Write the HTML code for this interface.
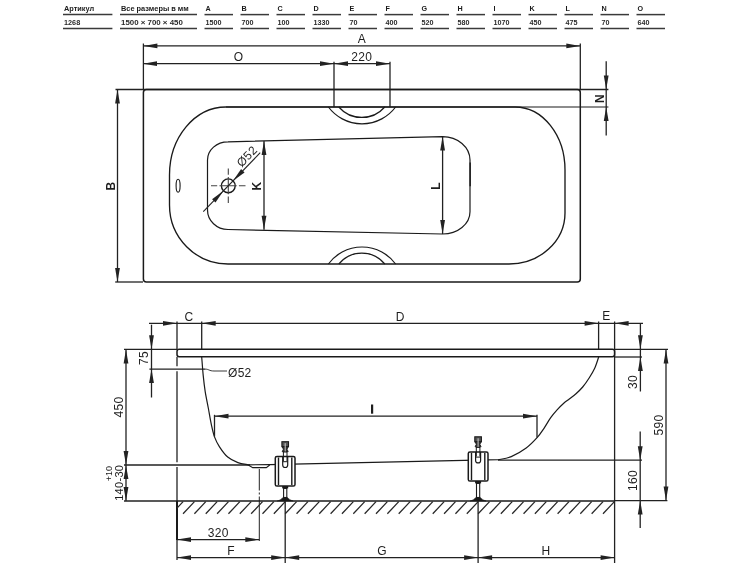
<!DOCTYPE html>
<html><head><meta charset="utf-8"><style>
html,body{margin:0;padding:0;background:#fff;width:750px;height:563px;overflow:hidden}
svg{display:block;will-change:transform}
text{font-family:"Liberation Sans",sans-serif}
</style></head><body>
<svg width="750" height="563" viewBox="0 0 750 563">
<rect width="750" height="563" fill="#fff"/>
<line x1="63.00" y1="14.60" x2="112.40" y2="14.60" stroke="#3a3a3a" stroke-width="1.5" />
<line x1="63.00" y1="28.50" x2="112.40" y2="28.50" stroke="#3a3a3a" stroke-width="1.5" />
<text x="64.00" y="10.90" font-size="7.2" text-anchor="start" font-weight="bold" fill="#1a1a1a" textLength="30.2" lengthAdjust="spacingAndGlyphs">Артикул</text>
<text x="64.00" y="25.00" font-size="7.2" text-anchor="start" font-weight="bold" fill="#2a2a2a" textLength="16.2" lengthAdjust="spacingAndGlyphs">1268</text>
<line x1="120.00" y1="14.60" x2="197.00" y2="14.60" stroke="#3a3a3a" stroke-width="1.5" />
<line x1="120.00" y1="28.50" x2="197.00" y2="28.50" stroke="#3a3a3a" stroke-width="1.5" />
<text x="121.00" y="10.90" font-size="7.2" text-anchor="start" font-weight="bold" fill="#1a1a1a" textLength="67.8" lengthAdjust="spacingAndGlyphs">Все размеры в мм</text>
<text x="121.00" y="25.00" font-size="7.2" text-anchor="start" font-weight="bold" fill="#2a2a2a" textLength="61.8" lengthAdjust="spacingAndGlyphs">1500 × 700 × 450</text>
<line x1="204.50" y1="14.60" x2="233.00" y2="14.60" stroke="#3a3a3a" stroke-width="1.5" />
<line x1="204.50" y1="28.50" x2="233.00" y2="28.50" stroke="#3a3a3a" stroke-width="1.5" />
<text x="205.50" y="10.90" font-size="7.2" text-anchor="start" font-weight="bold" fill="#1a1a1a" >A</text>
<text x="205.50" y="25.00" font-size="7.2" text-anchor="start" font-weight="bold" fill="#2a2a2a" >1500</text>
<line x1="240.50" y1="14.60" x2="269.00" y2="14.60" stroke="#3a3a3a" stroke-width="1.5" />
<line x1="240.50" y1="28.50" x2="269.00" y2="28.50" stroke="#3a3a3a" stroke-width="1.5" />
<text x="241.50" y="10.90" font-size="7.2" text-anchor="start" font-weight="bold" fill="#1a1a1a" >B</text>
<text x="241.50" y="25.00" font-size="7.2" text-anchor="start" font-weight="bold" fill="#2a2a2a" >700</text>
<line x1="276.50" y1="14.60" x2="305.00" y2="14.60" stroke="#3a3a3a" stroke-width="1.5" />
<line x1="276.50" y1="28.50" x2="305.00" y2="28.50" stroke="#3a3a3a" stroke-width="1.5" />
<text x="277.50" y="10.90" font-size="7.2" text-anchor="start" font-weight="bold" fill="#1a1a1a" >C</text>
<text x="277.50" y="25.00" font-size="7.2" text-anchor="start" font-weight="bold" fill="#2a2a2a" >100</text>
<line x1="312.50" y1="14.60" x2="341.00" y2="14.60" stroke="#3a3a3a" stroke-width="1.5" />
<line x1="312.50" y1="28.50" x2="341.00" y2="28.50" stroke="#3a3a3a" stroke-width="1.5" />
<text x="313.50" y="10.90" font-size="7.2" text-anchor="start" font-weight="bold" fill="#1a1a1a" >D</text>
<text x="313.50" y="25.00" font-size="7.2" text-anchor="start" font-weight="bold" fill="#2a2a2a" >1330</text>
<line x1="348.50" y1="14.60" x2="377.00" y2="14.60" stroke="#3a3a3a" stroke-width="1.5" />
<line x1="348.50" y1="28.50" x2="377.00" y2="28.50" stroke="#3a3a3a" stroke-width="1.5" />
<text x="349.50" y="10.90" font-size="7.2" text-anchor="start" font-weight="bold" fill="#1a1a1a" >E</text>
<text x="349.50" y="25.00" font-size="7.2" text-anchor="start" font-weight="bold" fill="#2a2a2a" >70</text>
<line x1="384.50" y1="14.60" x2="413.00" y2="14.60" stroke="#3a3a3a" stroke-width="1.5" />
<line x1="384.50" y1="28.50" x2="413.00" y2="28.50" stroke="#3a3a3a" stroke-width="1.5" />
<text x="385.50" y="10.90" font-size="7.2" text-anchor="start" font-weight="bold" fill="#1a1a1a" >F</text>
<text x="385.50" y="25.00" font-size="7.2" text-anchor="start" font-weight="bold" fill="#2a2a2a" >400</text>
<line x1="420.50" y1="14.60" x2="449.00" y2="14.60" stroke="#3a3a3a" stroke-width="1.5" />
<line x1="420.50" y1="28.50" x2="449.00" y2="28.50" stroke="#3a3a3a" stroke-width="1.5" />
<text x="421.50" y="10.90" font-size="7.2" text-anchor="start" font-weight="bold" fill="#1a1a1a" >G</text>
<text x="421.50" y="25.00" font-size="7.2" text-anchor="start" font-weight="bold" fill="#2a2a2a" >520</text>
<line x1="456.50" y1="14.60" x2="485.00" y2="14.60" stroke="#3a3a3a" stroke-width="1.5" />
<line x1="456.50" y1="28.50" x2="485.00" y2="28.50" stroke="#3a3a3a" stroke-width="1.5" />
<text x="457.50" y="10.90" font-size="7.2" text-anchor="start" font-weight="bold" fill="#1a1a1a" >H</text>
<text x="457.50" y="25.00" font-size="7.2" text-anchor="start" font-weight="bold" fill="#2a2a2a" >580</text>
<line x1="492.50" y1="14.60" x2="521.00" y2="14.60" stroke="#3a3a3a" stroke-width="1.5" />
<line x1="492.50" y1="28.50" x2="521.00" y2="28.50" stroke="#3a3a3a" stroke-width="1.5" />
<text x="493.50" y="10.90" font-size="7.2" text-anchor="start" font-weight="bold" fill="#1a1a1a" >I</text>
<text x="493.50" y="25.00" font-size="7.2" text-anchor="start" font-weight="bold" fill="#2a2a2a" >1070</text>
<line x1="528.50" y1="14.60" x2="557.00" y2="14.60" stroke="#3a3a3a" stroke-width="1.5" />
<line x1="528.50" y1="28.50" x2="557.00" y2="28.50" stroke="#3a3a3a" stroke-width="1.5" />
<text x="529.50" y="10.90" font-size="7.2" text-anchor="start" font-weight="bold" fill="#1a1a1a" >K</text>
<text x="529.50" y="25.00" font-size="7.2" text-anchor="start" font-weight="bold" fill="#2a2a2a" >450</text>
<line x1="564.50" y1="14.60" x2="593.00" y2="14.60" stroke="#3a3a3a" stroke-width="1.5" />
<line x1="564.50" y1="28.50" x2="593.00" y2="28.50" stroke="#3a3a3a" stroke-width="1.5" />
<text x="565.50" y="10.90" font-size="7.2" text-anchor="start" font-weight="bold" fill="#1a1a1a" >L</text>
<text x="565.50" y="25.00" font-size="7.2" text-anchor="start" font-weight="bold" fill="#2a2a2a" >475</text>
<line x1="600.50" y1="14.60" x2="629.00" y2="14.60" stroke="#3a3a3a" stroke-width="1.5" />
<line x1="600.50" y1="28.50" x2="629.00" y2="28.50" stroke="#3a3a3a" stroke-width="1.5" />
<text x="601.50" y="10.90" font-size="7.2" text-anchor="start" font-weight="bold" fill="#1a1a1a" >N</text>
<text x="601.50" y="25.00" font-size="7.2" text-anchor="start" font-weight="bold" fill="#2a2a2a" >70</text>
<line x1="636.50" y1="14.60" x2="665.00" y2="14.60" stroke="#3a3a3a" stroke-width="1.5" />
<line x1="636.50" y1="28.50" x2="665.00" y2="28.50" stroke="#3a3a3a" stroke-width="1.5" />
<text x="637.50" y="10.90" font-size="7.2" text-anchor="start" font-weight="bold" fill="#1a1a1a" >O</text>
<text x="637.50" y="25.00" font-size="7.2" text-anchor="start" font-weight="bold" fill="#2a2a2a" >640</text>
<line x1="143.40" y1="43.50" x2="143.40" y2="89.50" stroke="#222" stroke-width="1.3" />
<line x1="580.30" y1="43.50" x2="580.30" y2="89.50" stroke="#222" stroke-width="1.3" />
<line x1="143.00" y1="45.90" x2="580.00" y2="45.90" stroke="#222" stroke-width="1.3" />
<path d="M143.40,45.90 L157.40,43.50 L157.40,48.30 Z" fill="#222"/>
<path d="M580.30,45.90 L566.30,48.30 L566.30,43.50 Z" fill="#222"/>
<text x="362.00" y="43.20" font-size="12" text-anchor="middle" font-weight="normal" fill="#1e1e1e" letter-spacing="0.3" >A</text>
<line x1="143.00" y1="63.70" x2="390.00" y2="63.70" stroke="#222" stroke-width="1.3" />
<path d="M143.00,63.70 L157.00,61.30 L157.00,66.10 Z" fill="#222"/>
<path d="M334.00,63.70 L320.00,66.10 L320.00,61.30 Z" fill="#222"/>
<path d="M334.00,63.70 L348.00,61.30 L348.00,66.10 Z" fill="#222"/>
<path d="M390.00,63.70 L376.00,66.10 L376.00,61.30 Z" fill="#222"/>
<line x1="334.00" y1="61.70" x2="334.00" y2="107.00" stroke="#222" stroke-width="1.3" />
<line x1="390.00" y1="61.70" x2="390.00" y2="107.00" stroke="#222" stroke-width="1.3" />
<text x="238.50" y="61.00" font-size="12" text-anchor="middle" font-weight="normal" fill="#1e1e1e" letter-spacing="0.3" >O</text>
<text x="361.70" y="61.00" font-size="12" text-anchor="middle" font-weight="normal" fill="#1e1e1e" letter-spacing="0.3" >220</text>
<line x1="115.50" y1="89.50" x2="608.40" y2="89.50" stroke="#222" stroke-width="1.3" />
<line x1="115.20" y1="282.00" x2="143.00" y2="282.00" stroke="#222" stroke-width="1.3" />
<rect x="143.4" y="89.4" width="436.9" height="192.6" rx="3" fill="none" stroke="#1a1a1a" stroke-width="1.5"/>
<line x1="117.50" y1="89.50" x2="117.50" y2="282.00" stroke="#222" stroke-width="1.3" />
<path d="M117.50,89.50 L119.90,103.50 L115.10,103.50 Z" fill="#222"/>
<path d="M117.50,282.00 L115.10,268.00 L119.90,268.00 Z" fill="#222"/>
<text x="114.60" y="186.00" font-size="12" text-anchor="middle" font-weight="bold" fill="#1e1e1e" transform="rotate(-90 114.60 186.00)" letter-spacing="0.3" >B</text>
<line x1="606.20" y1="61.30" x2="606.20" y2="135.50" stroke="#222" stroke-width="1.3" />
<path d="M606.20,89.50 L603.80,75.50 L608.60,75.50 Z" fill="#222"/>
<path d="M606.20,107.00 L608.60,121.00 L603.80,121.00 Z" fill="#222"/>
<text x="603.80" y="98.40" font-size="12" text-anchor="middle" font-weight="bold" fill="#1e1e1e" transform="rotate(-90 603.80 98.40)" letter-spacing="0.3" >N</text>
<line x1="226.00" y1="107.00" x2="608.40" y2="107.00" stroke="#1a1a1a" stroke-width="1.1" />
<path d="M226,107 L515,107 A50,63 0 0 1 565,170 L565,213 A56,51 0 0 1 509,264 L228,264 A58.5,59 0 0 1 169.5,205 L169.5,175 A56.5,68 0 0 1 226,107 Z" stroke="#1a1a1a" stroke-width="1.35" fill="none" />
<path d="M328.4,107 A42,42 0 0 0 395.6,107" stroke="#1a1a1a" stroke-width="1.2" fill="none" />
<path d="M338.8,107 A30.5,30.5 0 0 0 384.8,107" stroke="#1a1a1a" stroke-width="1.2" fill="none" />
<path d="M328.4,264 A41.7,41.7 0 0 1 395.6,264" stroke="#1a1a1a" stroke-width="1.2" fill="none" />
<path d="M338.8,264 A29.9,29.9 0 0 1 384.8,264" stroke="#1a1a1a" stroke-width="1.2" fill="none" />
<path d="M228,141.8 L442.6,136.6 A27.4,23.5 0 0 1 470,160.1 L470,211.7 A27.4,22.3 0 0 1 442.6,234 L228,229.5 A20.5,19.5 0 0 1 207.5,210 L207.5,160 A20.5,18.2 0 0 1 228,141.8 Z" stroke="#1a1a1a" stroke-width="1.2" fill="none" />
<line x1="470.20" y1="162.40" x2="470.20" y2="186.30" stroke="#222" stroke-width="1.5" />
<line x1="264.00" y1="141.00" x2="264.00" y2="229.80" stroke="#222" stroke-width="1.3" />
<path d="M264.00,141.00 L266.40,155.00 L261.60,155.00 Z" fill="#222"/>
<path d="M264.00,229.80 L261.60,215.80 L266.40,215.80 Z" fill="#222"/>
<text x="261.20" y="186.00" font-size="12" text-anchor="middle" font-weight="bold" fill="#1e1e1e" transform="rotate(-90 261.20 186.00)" letter-spacing="0.3" >K</text>
<line x1="442.60" y1="136.60" x2="442.60" y2="234.00" stroke="#222" stroke-width="1.3" />
<path d="M442.60,136.60 L445.00,150.60 L440.20,150.60 Z" fill="#222"/>
<path d="M442.60,234.00 L440.20,220.00 L445.00,220.00 Z" fill="#222"/>
<text x="440.40" y="186.00" font-size="12" text-anchor="middle" font-weight="bold" fill="#1e1e1e" transform="rotate(-90 440.40 186.00)" letter-spacing="0.3" >L</text>
<circle cx="228.3" cy="185.8" r="6.9" fill="none" stroke="#1a1a1a" stroke-width="1.4"/>
<line x1="211.00" y1="185.80" x2="245.50" y2="185.80" stroke="#444" stroke-width="1.1" stroke-dasharray="6.2,2.3,17.2,2.2,7"/>
<line x1="228.30" y1="168.60" x2="228.30" y2="203.00" stroke="#444" stroke-width="1.1" stroke-dasharray="6.2,2.2,17.2,2.2,7"/>
<line x1="203.29" y1="211.70" x2="260.25" y2="152.71" stroke="#222" stroke-width="1.1" />
<path d="M223.51,190.76 L215.51,202.50 L212.06,199.17 Z" fill="#222"/>
<path d="M233.09,180.84 L241.09,169.10 L244.54,172.43 Z" fill="#222"/>
<text x="249.88" y="159.20" font-size="12" text-anchor="middle" font-weight="normal" fill="#1e1e1e" transform="rotate(-46 249.88 159.20)" letter-spacing="0.3" >Ø52</text>
<ellipse cx="178.1" cy="185.7" rx="2" ry="6.5" fill="none" stroke="#1a1a1a" stroke-width="1.1"/>
<line x1="149.00" y1="323.30" x2="643.00" y2="323.30" stroke="#222" stroke-width="1.3" />
<path d="M177.00,323.30 L163.00,325.70 L163.00,320.90 Z" fill="#222"/>
<path d="M201.70,323.30 L215.70,320.90 L215.70,325.70 Z" fill="#222"/>
<path d="M598.60,323.30 L584.60,325.70 L584.60,320.90 Z" fill="#222"/>
<path d="M614.60,323.30 L628.60,320.90 L628.60,325.70 Z" fill="#222"/>
<line x1="177.00" y1="321.50" x2="177.00" y2="349.00" stroke="#222" stroke-width="1.3" />
<line x1="177.00" y1="357.00" x2="177.00" y2="366.30" stroke="#222" stroke-width="1.3" />
<line x1="177.00" y1="371.20" x2="177.00" y2="462.20" stroke="#222" stroke-width="1.3" />
<line x1="177.00" y1="467.00" x2="177.00" y2="501.00" stroke="#222" stroke-width="1.3" />
<line x1="177.00" y1="540.00" x2="177.00" y2="560.00" stroke="#222" stroke-width="1.3" />
<line x1="201.70" y1="321.50" x2="201.70" y2="349.00" stroke="#222" stroke-width="1.3" />
<line x1="598.60" y1="321.50" x2="598.60" y2="349.00" stroke="#222" stroke-width="1.3" />
<line x1="614.60" y1="321.50" x2="614.60" y2="563.00" stroke="#222" stroke-width="1.3" />
<text x="189.10" y="320.80" font-size="12" text-anchor="middle" font-weight="normal" fill="#1e1e1e" letter-spacing="0.3" >C</text>
<text x="400.20" y="320.80" font-size="12" text-anchor="middle" font-weight="normal" fill="#1e1e1e" letter-spacing="0.3" >D</text>
<text x="606.40" y="320.40" font-size="12" text-anchor="middle" font-weight="normal" fill="#1e1e1e" letter-spacing="0.3" >E</text>
<rect x="177" y="349.2" width="437.6" height="7.6" rx="2.2" fill="none" stroke="#1a1a1a" stroke-width="1.5"/>
<line x1="124.00" y1="349.40" x2="177.00" y2="349.40" stroke="#222" stroke-width="1.3" />
<line x1="614.60" y1="349.40" x2="668.00" y2="349.40" stroke="#222" stroke-width="1.3" />
<line x1="614.60" y1="357.00" x2="642.00" y2="357.00" stroke="#222" stroke-width="1.3" />
<line x1="151.50" y1="324.70" x2="151.50" y2="397.50" stroke="#222" stroke-width="1.3" />
<path d="M151.50,349.20 L149.10,335.20 L153.90,335.20 Z" fill="#222"/>
<path d="M151.50,369.10 L153.90,383.10 L149.10,383.10 Z" fill="#222"/>
<line x1="149.40" y1="369.10" x2="205.00" y2="369.10" stroke="#222" stroke-width="1.3" />
<path d="M205,369.1 C209,369.1 209,371 214,371 L227,371" stroke="#222" stroke-width="0.9" fill="none" />
<text x="148.30" y="358.00" font-size="12" text-anchor="middle" font-weight="normal" fill="#1e1e1e" transform="rotate(-90 148.30 358.00)" letter-spacing="0.3" >75</text>
<text x="228.00" y="377.30" font-size="12" text-anchor="start" font-weight="normal" fill="#1e1e1e" letter-spacing="0.3" >Ø52</text>
<line x1="126.00" y1="349.40" x2="126.00" y2="501.00" stroke="#222" stroke-width="1.3" />
<path d="M126.00,349.40 L128.40,363.40 L123.60,363.40 Z" fill="#222"/>
<path d="M126.00,465.00 L123.60,451.00 L128.40,451.00 Z" fill="#222"/>
<path d="M126.00,465.00 L128.40,479.00 L123.60,479.00 Z" fill="#222"/>
<path d="M126.00,501.00 L123.60,487.00 L128.40,487.00 Z" fill="#222"/>
<text x="123.20" y="407.00" font-size="12" text-anchor="middle" font-weight="normal" fill="#1e1e1e" transform="rotate(-90 123.20 407.00)" letter-spacing="0.3" >450</text>
<line x1="124.00" y1="465.00" x2="250.00" y2="465.00" stroke="#222" stroke-width="1.3" />
<line x1="124.00" y1="501.00" x2="177.00" y2="501.00" stroke="#222" stroke-width="1.3" />
<text x="122.60" y="482.80" font-size="11" text-anchor="middle" font-weight="normal" fill="#1e1e1e" transform="rotate(-90 122.60 482.80)" letter-spacing="0.3" >140-30</text>
<text x="112.20" y="473.70" font-size="9" text-anchor="middle" font-weight="normal" fill="#1e1e1e" transform="rotate(-90 112.20 473.70)" >+10</text>
<line x1="640.40" y1="324.00" x2="640.40" y2="391.50" stroke="#222" stroke-width="1.3" />
<path d="M640.40,349.20 L638.00,335.20 L642.80,335.20 Z" fill="#222"/>
<path d="M640.40,357.00 L642.80,371.00 L638.00,371.00 Z" fill="#222"/>
<text x="637.20" y="382.00" font-size="12" text-anchor="middle" font-weight="normal" fill="#1e1e1e" transform="rotate(-90 637.20 382.00)" letter-spacing="0.3" >30</text>
<line x1="640.20" y1="431.60" x2="640.20" y2="528.00" stroke="#222" stroke-width="1.3" />
<path d="M640.20,460.30 L637.80,446.30 L642.60,446.30 Z" fill="#222"/>
<path d="M640.20,500.60 L642.60,514.60 L637.80,514.60 Z" fill="#222"/>
<text x="637.40" y="480.50" font-size="12" text-anchor="middle" font-weight="normal" fill="#1e1e1e" transform="rotate(-90 637.40 480.50)" letter-spacing="0.3" >160</text>
<line x1="498.00" y1="460.10" x2="642.00" y2="460.10" stroke="#222" stroke-width="1.3" />
<line x1="614.60" y1="500.60" x2="667.40" y2="500.60" stroke="#222" stroke-width="1.3" />
<line x1="666.00" y1="349.40" x2="666.00" y2="500.60" stroke="#222" stroke-width="1.3" />
<path d="M666.00,349.40 L668.40,363.40 L663.60,363.40 Z" fill="#222"/>
<path d="M666.00,500.60 L663.60,486.60 L668.40,486.60 Z" fill="#222"/>
<text x="663.20" y="425.00" font-size="12" text-anchor="middle" font-weight="normal" fill="#1e1e1e" transform="rotate(-90 663.20 425.00)" letter-spacing="0.3" >590</text>
<path d="M201.70,357.00 C201.95,360.07 202.62,369.62 203.20,375.40 C203.78,381.18 204.35,386.27 205.20,391.70 C206.05,397.13 207.28,402.55 208.30,408.00 C209.32,413.45 210.28,419.63 211.30,424.40 C212.32,429.17 213.03,432.87 214.40,436.60 C215.77,440.33 217.28,443.40 219.50,446.80 C221.72,450.20 224.63,454.37 227.70,457.00 C230.77,459.63 234.52,461.30 237.90,462.60 C241.28,463.90 246.32,464.43 248.00,464.80 L270,464.6 L498.5,459.7 C500.63,459.18 506.68,458.55 511.30,456.60 C515.92,454.65 521.87,451.20 526.20,448.00 C530.53,444.80 534.33,440.68 537.30,437.40 C540.27,434.12 541.77,431.58 544.00,428.30 C546.23,425.02 548.48,420.80 550.70,417.70 C552.92,414.60 555.08,412.15 557.30,409.70 C559.52,407.25 562.00,404.78 564.00,403.00 C566.00,401.22 567.30,400.55 569.30,399.00 C571.30,397.45 573.77,395.70 576.00,393.70 C578.23,391.70 580.48,389.67 582.70,387.00 C584.92,384.33 587.30,380.82 589.30,377.70 C591.30,374.58 593.13,371.75 594.70,368.30 C596.27,364.85 598.03,358.88 598.70,357.00" stroke="#1a1a1a" stroke-width="1.2" fill="none" />
<path d="M248.3,465 L252.7,467.6 L266.3,467.6 L269.7,465" stroke="#1a1a1a" stroke-width="1.1" fill="none" />
<line x1="259.30" y1="469.00" x2="259.30" y2="541.00" stroke="#222" stroke-width="1.0" stroke-dasharray="21.5,2,2,2,100"/>
<line x1="214.50" y1="414.80" x2="214.50" y2="436.50" stroke="#222" stroke-width="1.3" />
<line x1="537.00" y1="414.80" x2="537.00" y2="437.50" stroke="#222" stroke-width="1.3" />
<line x1="214.50" y1="416.20" x2="537.00" y2="416.20" stroke="#222" stroke-width="1.3" />
<path d="M214.50,416.20 L228.50,413.80 L228.50,418.60 Z" fill="#222"/>
<path d="M537.00,416.20 L523.00,418.60 L523.00,413.80 Z" fill="#222"/>
<rect x="371" y="404.5" width="2.2" height="9.2" fill="#1e1e1e"/>
<line x1="177.00" y1="501.00" x2="614.60" y2="501.00" stroke="#1a1a1a" stroke-width="1.6" />
<line x1="177.00" y1="501.00" x2="177.00" y2="540.00" stroke="#1a1a1a" stroke-width="2" />
<clipPath id="hc"><rect x="177" y="501" width="437.6" height="14"/></clipPath>
<path d="M171.70,513.8 L183.10,501.6 M183.05,513.8 L194.45,501.6 M194.40,513.8 L205.80,501.6 M205.75,513.8 L217.15,501.6 M217.10,513.8 L228.50,501.6 M228.45,513.8 L239.85,501.6 M239.80,513.8 L251.20,501.6 M251.15,513.8 L262.55,501.6 M262.50,513.8 L273.90,501.6 M273.85,513.8 L285.25,501.6 M285.20,513.8 L296.60,501.6 M296.55,513.8 L307.95,501.6 M307.90,513.8 L319.30,501.6 M319.25,513.8 L330.65,501.6 M330.60,513.8 L342.00,501.6 M341.95,513.8 L353.35,501.6 M353.30,513.8 L364.70,501.6 M364.65,513.8 L376.05,501.6 M376.00,513.8 L387.40,501.6 M387.35,513.8 L398.75,501.6 M398.70,513.8 L410.10,501.6 M410.05,513.8 L421.45,501.6 M421.40,513.8 L432.80,501.6 M432.75,513.8 L444.15,501.6 M444.10,513.8 L455.50,501.6 M455.45,513.8 L466.85,501.6 M466.80,513.8 L478.20,501.6 M478.15,513.8 L489.55,501.6 M489.50,513.8 L500.90,501.6 M500.85,513.8 L512.25,501.6 M512.20,513.8 L523.60,501.6 M523.55,513.8 L534.95,501.6 M534.90,513.8 L546.30,501.6 M546.25,513.8 L557.65,501.6 M557.60,513.8 L569.00,501.6 M568.95,513.8 L580.35,501.6 M580.30,513.8 L591.70,501.6 M591.65,513.8 L603.05,501.6 M603.00,513.8 L614.40,501.6 M614.35,513.8 L625.75,501.6" stroke="#2a2a2a" stroke-width="1.3" clip-path="url(#hc)"/>
<rect x="281.90" y="441.70" width="6.6" height="5" fill="#555" stroke="#1a1a1a" stroke-width="1.1"/>
<path d="M282.20,446.70 L283.40,449.20 L282.20,451.70 L288.20,451.70 L287.00,449.20 L288.20,446.70 Z" stroke="#1a1a1a" stroke-width="0.9" fill="#333" />
<line x1="285.20" y1="443.20" x2="285.20" y2="452.50" stroke="#ddd" stroke-width="0.9" />
<rect x="283.40" y="452.00" width="3.6" height="6" fill="#fff" stroke="#1a1a1a" stroke-width="1"/>
<rect x="275.30" y="456.50" width="19.70" height="29.50" rx="1.6" fill="#fff" stroke="#1a1a1a" stroke-width="1.5"/>
<line x1="278.50" y1="457.50" x2="278.50" y2="485.00" stroke="#1a1a1a" stroke-width="1.4" />
<line x1="291.80" y1="457.50" x2="291.80" y2="485.00" stroke="#1a1a1a" stroke-width="1.4" />
<path d="M282.70,456.50 L282.70,465.00 A2.5,2.5 0 0 0 287.70,465.00 L287.70,456.50" stroke="#1a1a1a" stroke-width="1.2" fill="none" />
<line x1="282.70" y1="461.70" x2="287.70" y2="461.70" stroke="#1a1a1a" stroke-width="1.0" />
<line x1="283.40" y1="456.50" x2="283.40" y2="461.00" stroke="#1a1a1a" stroke-width="1.0" />
<line x1="287.00" y1="456.50" x2="287.00" y2="461.00" stroke="#1a1a1a" stroke-width="1.0" />
<rect x="282.20" y="486.00" width="6" height="2.4" fill="#1a1a1a"/>
<rect x="283.60" y="488.40" width="3.2" height="9.20" fill="#fff" stroke="#1a1a1a" stroke-width="1.1"/>
<path d="M277.20,501 C280.20,500.2 282.20,498.4 283.00,497.4 L287.40,497.4 C288.20,498.4 290.20,500.2 293.20,501 Z" stroke="#1a1a1a" stroke-width="0.5" fill="#1a1a1a" />
<rect x="474.80" y="436.80" width="6.6" height="5" fill="#555" stroke="#1a1a1a" stroke-width="1.1"/>
<path d="M475.10,441.80 L476.30,444.30 L475.10,446.80 L481.10,446.80 L479.90,444.30 L481.10,441.80 Z" stroke="#1a1a1a" stroke-width="0.9" fill="#333" />
<line x1="478.10" y1="438.30" x2="478.10" y2="447.90" stroke="#ddd" stroke-width="0.9" />
<rect x="476.30" y="447.40" width="3.6" height="6" fill="#fff" stroke="#1a1a1a" stroke-width="1"/>
<rect x="468.30" y="451.90" width="19.70" height="29.10" rx="1.6" fill="#fff" stroke="#1a1a1a" stroke-width="1.5"/>
<line x1="471.50" y1="452.90" x2="471.50" y2="480.00" stroke="#1a1a1a" stroke-width="1.4" />
<line x1="484.80" y1="452.90" x2="484.80" y2="480.00" stroke="#1a1a1a" stroke-width="1.4" />
<path d="M475.60,451.90 L475.60,460.40 A2.5,2.5 0 0 0 480.60,460.40 L480.60,451.90" stroke="#1a1a1a" stroke-width="1.2" fill="none" />
<line x1="475.60" y1="457.10" x2="480.60" y2="457.10" stroke="#1a1a1a" stroke-width="1.0" />
<line x1="476.30" y1="451.90" x2="476.30" y2="456.40" stroke="#1a1a1a" stroke-width="1.0" />
<line x1="479.90" y1="451.90" x2="479.90" y2="456.40" stroke="#1a1a1a" stroke-width="1.0" />
<rect x="475.10" y="481.00" width="6" height="2.4" fill="#1a1a1a"/>
<rect x="476.50" y="483.40" width="3.2" height="14.20" fill="#fff" stroke="#1a1a1a" stroke-width="1.1"/>
<path d="M470.10,501 C473.10,500.2 475.10,498.4 475.90,497.4 L480.30,497.4 C481.10,498.4 483.10,500.2 486.10,501 Z" stroke="#1a1a1a" stroke-width="0.5" fill="#1a1a1a" />
<line x1="285.20" y1="501.00" x2="285.20" y2="563.00" stroke="#222" stroke-width="1.3" />
<line x1="478.10" y1="501.00" x2="478.10" y2="563.00" stroke="#222" stroke-width="1.3" />
<line x1="177.00" y1="539.60" x2="259.30" y2="539.60" stroke="#222" stroke-width="1.3" />
<path d="M177.00,539.60 L191.00,537.20 L191.00,542.00 Z" fill="#222"/>
<path d="M259.30,539.60 L245.30,542.00 L245.30,537.20 Z" fill="#222"/>
<text x="218.30" y="537.20" font-size="12" text-anchor="middle" font-weight="normal" fill="#1e1e1e" letter-spacing="0.3" >320</text>
<line x1="177.00" y1="557.60" x2="614.60" y2="557.60" stroke="#222" stroke-width="1.3" />
<path d="M177.00,557.60 L191.00,555.20 L191.00,560.00 Z" fill="#222"/>
<path d="M285.20,557.60 L271.20,560.00 L271.20,555.20 Z" fill="#222"/>
<path d="M285.20,557.60 L299.20,555.20 L299.20,560.00 Z" fill="#222"/>
<path d="M478.10,557.60 L464.10,560.00 L464.10,555.20 Z" fill="#222"/>
<path d="M478.10,557.60 L492.10,555.20 L492.10,560.00 Z" fill="#222"/>
<path d="M614.60,557.60 L600.60,560.00 L600.60,555.20 Z" fill="#222"/>
<text x="231.10" y="554.90" font-size="12" text-anchor="middle" font-weight="normal" fill="#1e1e1e" letter-spacing="0.3" >F</text>
<text x="382.00" y="555.40" font-size="12" text-anchor="middle" font-weight="normal" fill="#1e1e1e" letter-spacing="0.3" >G</text>
<text x="546.00" y="554.50" font-size="12" text-anchor="middle" font-weight="normal" fill="#1e1e1e" letter-spacing="0.3" >H</text>
</svg>
</body></html>
